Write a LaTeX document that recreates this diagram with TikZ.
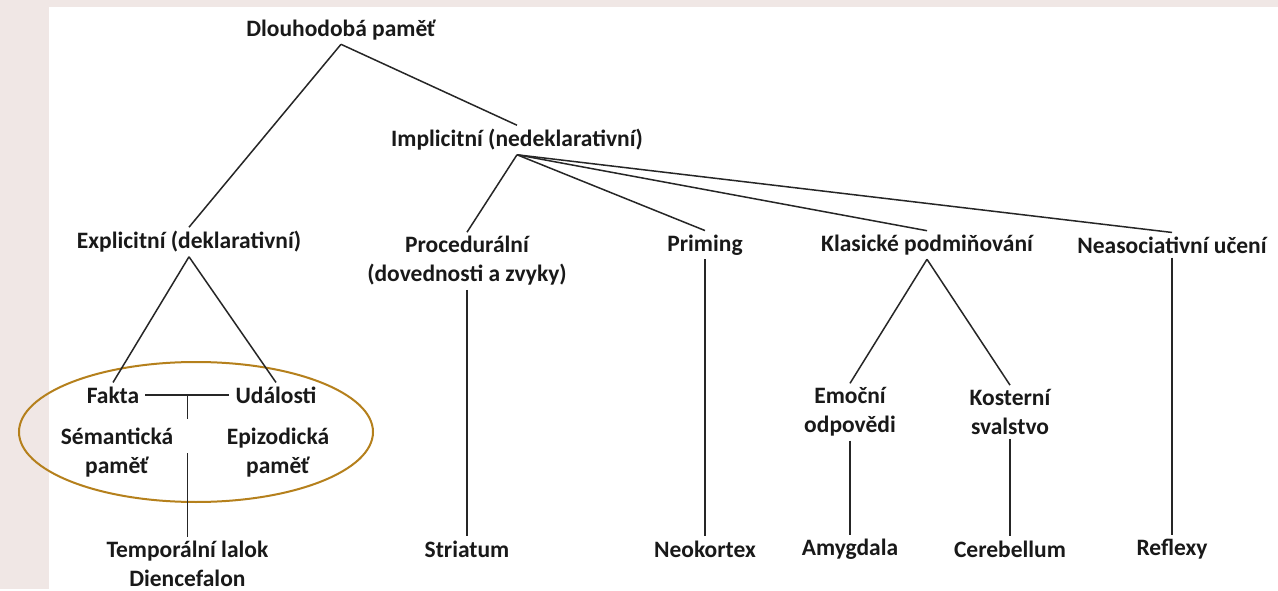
\documentclass[tikz,border=0pt]{standalone}
\usepackage{fontspec}
\setmainfont{Carlito}
\usetikzlibrary{positioning,shapes.geometric,calc}
\definecolor{okr}{RGB}{181,128,28}
\definecolor{pozadi}{RGB}{240,231,229}
\tikzset{
  pojem/.style={
    font=\bfseries\fontsize{23.5}{29}\selectfont,
    text=black!90,
    align=center,
    inner xsep=6pt,
    inner ysep=4pt},
  ramec/.style={
    ellipse,
    draw=okr,line width=2pt,
    minimum width=354pt,
    minimum height=140pt,
    inner sep=0pt},
  spoj/.style = {draw=black!85,line width=1.5pt},
}

\begin{document}
\begin{tikzpicture}[x=1pt,y=-1pt]
  \fill[pozadi] (0,0) rectangle (1278,589);
  \fill[white] (49,7) rectangle (1278,589);
  \node[ramec](oval) at (196,432) {};
  \node[pojem](dlouh) at (341,30) {Dlouhodobá paměť};
  \node[pojem](impl) at (517,140) {Implicitní (nedeklarativní)};
  \node[pojem](expl) at (189,242) {Explicitní (deklarativní)};
  \draw[spoj] (dlouh.south) -- (expl.north);
  \draw[spoj] (dlouh.south) -- (impl.north);
  \node[pojem](proc) at (467,261) {Procedurální\\(dovednosti a zvyky)};
  \node[pojem](prim) at (705,245) {Priming};
  \node[pojem](klas) at (927,245) {Klasické podmiňování};
  \node[pojem](neas) at (1172,245) {Neasociativní učení};
  \draw[spoj] (impl.south) -- (proc.north);
  \draw[spoj] (impl.south) -- (prim.north);
  \draw[spoj] (impl.south) -- (klas.north);
  \draw[spoj] (impl.south) -- (neas.north);
  % explicitni vetev
  \node[pojem](fakta) at (113,395) {Fakta};
  \node[pojem](udal) at (276,395) {Události};
  \draw[spoj] (expl.south) -- (fakta.north);
  \draw[spoj] (expl.south) -- (udal.north);
  \node[pojem](sem) at (117,453) {Sémantická\\paměť};
  \node[pojem](epi) at (278,453) {Epizodická\\paměť};
  \draw[spoj] (fakta.east) -- (udal.west);
  \coordinate (rozv) at ($(fakta.east)!0.5!(udal.west)$);
  \coordinate (rozv2) at ($(rozv)+(0,24)$);
  \draw[spoj] (rozv) -- (rozv2);
  \node[pojem](temp) at (rozv |- 0,564) {Temporální lalok\\Diencefalon};
  \coordinate (pamet) at (rozv |- 0,453);
  \draw[spoj] (pamet) -- (temp.north);
  % implicitni vetev
  \node[pojem](stri) at (proc |- 0,549) {Striatum};
  \draw[spoj] (proc.south) -- (stri.north);
  \node[pojem](neok) at (prim |- stri) {Neokortex};
  \draw[spoj] (prim.south) -- (neok.north);
  \node[pojem](emoc) at (850,412) {Emoční\\odpovědi};
  \node[pojem](kost) at (1010,412) {Kosterní\\svalstvo};
  \draw[spoj] (klas.south) -- (emoc.north);
  \draw[spoj] (klas.south) -- (kost.north);
  \node[pojem](amyg) at (emoc |- stri) {Amygdala};
  \draw[spoj] (emoc.south) -- (amyg.north);
  \node[pojem](cere) at (kost |- stri) {Cerebellum};
  \draw[spoj] (kost.south) -- (cere.north);
  \node[pojem](refl) at (neas |- stri) {Reflexy};
  \draw[spoj] (neas.south) -- (refl.north);
\end{tikzpicture}
\end{document}
